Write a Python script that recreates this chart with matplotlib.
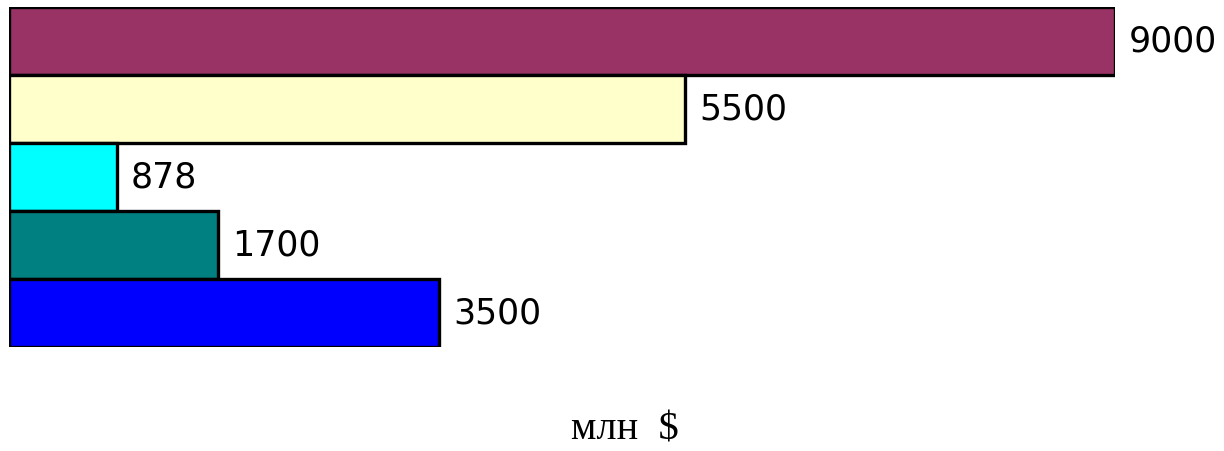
import matplotlib
matplotlib.use("Agg")
import matplotlib.pyplot as plt

values = [9000, 5500, 878, 1700, 3500]  # top to bottom
colors = ["#993366", "#FFFFCC", "#00FFFF", "#008080", "#0000FF"]
labels = ["9000", "5500", "878", "1700", "3500"]
unit_label = "млн  $"

W, H = 1224, 451
fig = plt.figure(figsize=(W / 100, H / 100), dpi=100)
left, right = 9, 1115
top, bottom = 7, 347
ax = fig.add_axes([left / W, (H - bottom) / H, (right - left) / W, (bottom - top) / H])

n = len(values)
ypos = list(range(n - 1, -1, -1))
ax.barh(ypos, values, height=1.0, color=colors, edgecolor="black", linewidth=2.4)
for y, v, lab in zip(ypos, values, labels):
    ax.annotate(lab, xy=(v, y), xytext=(14, 0), textcoords="offset pixels",
                ha="left", va="center", fontsize=25, family="DejaVu Sans")

ax.set_xlim(0, max(values))
ax.set_ylim(-0.5, n - 0.5)
ax.axis("off")

fig.text(625 / W, 1 - 439 / H, unit_label, ha="center", va="baseline",
         fontsize=29, family="Liberation Serif")

fig.savefig("out.png", dpi=100)
